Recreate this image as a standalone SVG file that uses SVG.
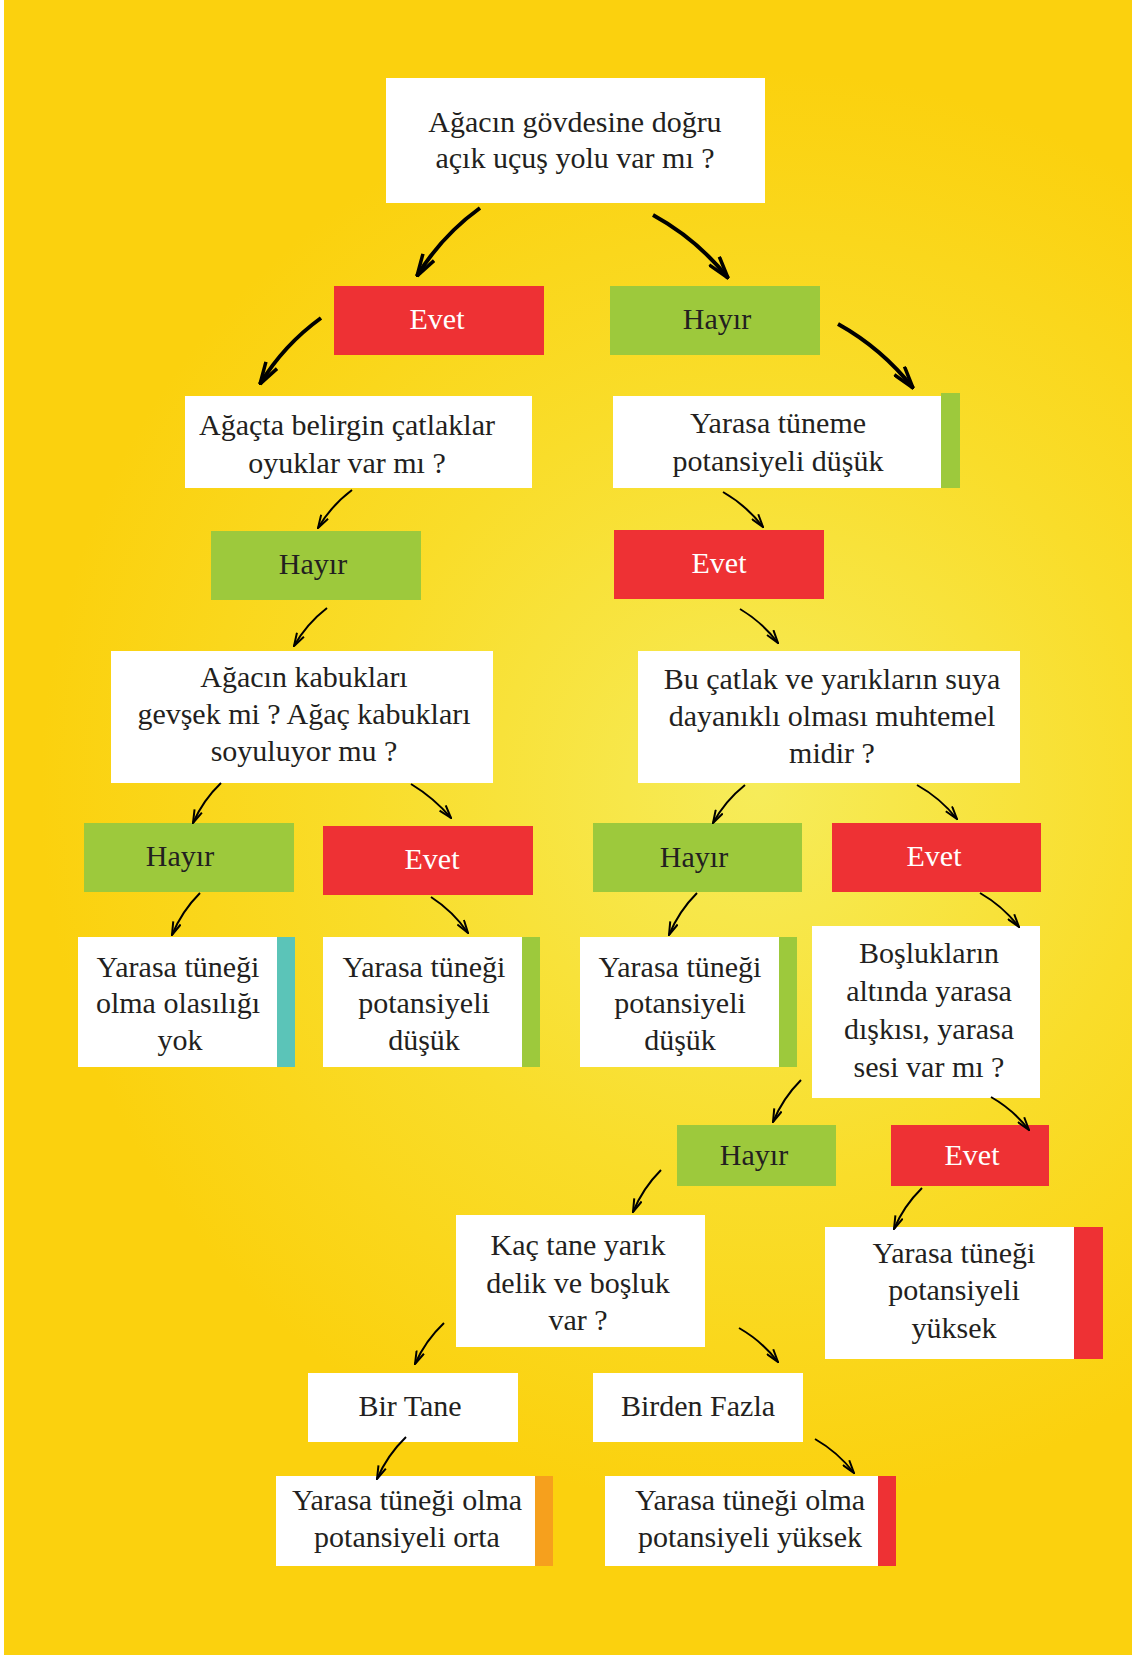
<svg xmlns="http://www.w3.org/2000/svg" width="1132" height="1656" viewBox="0 0 1132 1656">
<defs>
<radialGradient id="bg" gradientUnits="userSpaceOnUse" cx="760" cy="790" r="720">
<stop offset="0" stop-color="#f6ec5a"/>
<stop offset="0.55" stop-color="#f9dd2a"/>
<stop offset="1" stop-color="#fbd10e"/>
</radialGradient>
<marker id="ahBig" markerUnits="userSpaceOnUse" viewBox="0 0 24 16" markerWidth="24" markerHeight="16" refX="23" refY="8" orient="auto">
<path d="M1,1.5 L23,8 L1,14.5" fill="none" stroke="#000" stroke-width="3.5" stroke-linejoin="miter"/>
</marker>
<marker id="ahSmall" markerUnits="userSpaceOnUse" viewBox="0 0 15 10" markerWidth="15" markerHeight="10" refX="14" refY="5" orient="auto">
<path d="M1,1 L14,5 L1,9" fill="none" stroke="#000" stroke-width="2"/>
</marker>
</defs>
<style>
.t{font-family:'Liberation Serif','Times New Roman',serif;font-size:30px;fill:#231f20;text-anchor:middle}
.w{fill:#ffffff}
.tw{fill:#ffffff}
.red{fill:#ee3134}
.grn{fill:#9dc93c}
.teal{fill:#5bc4b8}
.org{fill:#f6a01d}
.big{fill:none;stroke:#000;stroke-width:4;marker-end:url(#ahBig)}
.sm{fill:none;stroke:#000;stroke-width:2;marker-end:url(#ahSmall)}
</style>
<rect x="0" y="0" width="1132" height="1656" fill="#ffffff"/>
<rect x="4" y="0" width="1128" height="1655" fill="url(#bg)"/>

<g id="n-root"><rect class="w" x="386" y="78" width="379" height="125"/><text class="t" x="575" y="132">Ağacın gövdesine doğru</text><text class="t" x="575" y="168">açık uçuş yolu var mı ?</text></g>
<g id="n-evet1"><rect class="red" x="334" y="286" width="210" height="69"/><text class="t tw" x="437" y="329">Evet</text></g>
<g id="n-hayir1"><rect class="grn" x="610" y="286" width="210" height="69"/><text class="t" x="717" y="329">Hayır</text></g>
<g id="n-catlak"><rect class="w" x="185" y="396" width="347" height="92"/><text class="t" x="347" y="435">Ağaçta belirgin çatlaklar</text><text class="t" x="347" y="473">oyuklar var mı ?</text></g>
<g id="n-tuneme"><rect class="w" x="613" y="396" width="328" height="92"/><rect class="grn" x="941" y="393" width="19" height="95"/><text class="t" x="778" y="433">Yarasa tüneme</text><text class="t" x="778" y="471">potansiyeli düşük</text></g>
<g id="n-hayir2"><rect class="grn" x="211" y="531" width="210" height="69"/><text class="t" x="313" y="574">Hayır</text></g>
<g id="n-evet2"><rect class="red" x="614" y="530" width="210" height="69"/><text class="t tw" x="719" y="573">Evet</text></g>
<g id="n-kabuk"><rect class="w" x="111" y="651" width="382" height="132"/><text class="t" x="304" y="687">Ağacın kabukları</text><text class="t" x="304" y="724">gevşek mi ? Ağaç kabukları</text><text class="t" x="304" y="761">soyuluyor mu ?</text></g>
<g id="n-suya"><rect class="w" x="638" y="651" width="382" height="132"/><text class="t" x="832" y="689">Bu çatlak ve yarıkların suya</text><text class="t" x="832" y="726">dayanıklı olması muhtemel</text><text class="t" x="832" y="763">midir ?</text></g>
<g id="n-hayir3"><rect class="grn" x="84" y="823" width="210" height="69"/><text class="t" x="180" y="866">Hayır</text></g>
<g id="n-evet3"><rect class="red" x="323" y="826" width="210" height="69"/><text class="t tw" x="432" y="869">Evet</text></g>
<g id="n-hayir4"><rect class="grn" x="593" y="823" width="209" height="69"/><text class="t" x="694" y="867">Hayır</text></g>
<g id="n-evet4"><rect class="red" x="832" y="823" width="209" height="69"/><text class="t tw" x="934" y="866">Evet</text></g>
<g id="n-yok"><rect class="w" x="78" y="937" width="199" height="130"/><rect class="teal" x="277" y="937" width="18" height="130"/><text class="t" x="178" y="977">Yarasa tüneği</text><text class="t" x="178" y="1013">olma olasılığı</text><text class="t" x="180" y="1050">yok</text></g>
<g id="n-dusuk1"><rect class="w" x="323" y="937" width="199" height="130"/><rect class="grn" x="522" y="937" width="18" height="130"/><text class="t" x="424" y="977">Yarasa tüneği</text><text class="t" x="424" y="1013">potansiyeli</text><text class="t" x="424" y="1050">düşük</text></g>
<g id="n-dusuk2"><rect class="w" x="580" y="937" width="199" height="130"/><rect class="grn" x="779" y="937" width="18" height="130"/><text class="t" x="680" y="977">Yarasa tüneği</text><text class="t" x="680" y="1013">potansiyeli</text><text class="t" x="680" y="1050">düşük</text></g>
<g id="n-bosluk"><rect class="w" x="812" y="926" width="228" height="172"/><text class="t" x="929" y="963">Boşlukların</text><text class="t" x="929" y="1001">altında yarasa</text><text class="t" x="929" y="1039">dışkısı, yarasa</text><text class="t" x="929" y="1077">sesi var mı ?</text></g>
<g id="n-hayir5"><rect class="grn" x="677" y="1125" width="159" height="61"/><text class="t" x="754" y="1165">Hayır</text></g>
<g id="n-evet5"><rect class="red" x="891" y="1125" width="158" height="61"/><text class="t tw" x="972" y="1165">Evet</text></g>
<g id="n-kac"><rect class="w" x="456" y="1215" width="249" height="132"/><text class="t" x="578" y="1255">Kaç tane yarık</text><text class="t" x="578" y="1293">delik ve boşluk</text><text class="t" x="578" y="1330">var ?</text></g>
<g id="n-yuksek1"><rect class="w" x="825" y="1227" width="249" height="132"/><rect class="red" x="1074" y="1227" width="29" height="132"/><text class="t" x="954" y="1263">Yarasa tüneği</text><text class="t" x="954" y="1300">potansiyeli</text><text class="t" x="954" y="1338">yüksek</text></g>
<g id="n-birtane"><rect class="w" x="308" y="1373" width="210" height="69"/><text class="t" x="410" y="1416">Bir Tane</text></g>
<g id="n-birden"><rect class="w" x="593" y="1373" width="210" height="69"/><text class="t" x="698" y="1416">Birden Fazla</text></g>
<g id="n-orta"><rect class="w" x="276" y="1476" width="259" height="90"/><rect class="org" x="535" y="1476" width="18" height="90"/><text class="t" x="407" y="1510">Yarasa tüneği olma</text><text class="t" x="407" y="1547">potansiyeli orta</text></g>
<g id="n-yuksek2"><rect class="w" x="605" y="1476" width="273" height="90"/><rect class="red" x="878" y="1476" width="18" height="90"/><text class="t" x="750" y="1510">Yarasa tüneği olma</text><text class="t" x="750" y="1547">potansiyeli yüksek</text></g>

<g id="connectors">
<path class="big" d="M480,208 Q441.7,235.7 417,276"/>
<path class="big" d="M653,215 Q696.8,239 728,278"/>
<path class="big" d="M321,318 Q283.9,344.9 260,384"/>
<path class="big" d="M838,324 Q881.9,348.5 913,388"/>
<path class="sm" d="M352,490 Q331.2,505.6 318,528"/>
<path class="sm" d="M723,492 Q746.5,505.5 763,527"/>
<path class="sm" d="M327,608 Q306.7,623.7 294,646"/>
<path class="sm" d="M740,609 Q762.4,622.2 778,643"/>
<path class="sm" d="M221,783 Q203,800.2 193,823"/>
<path class="sm" d="M411,784 Q434.4,798.2 451,818"/>
<path class="sm" d="M745,785 Q725.2,800.8 713,823"/>
<path class="sm" d="M917,785 Q940.4,798 957,819"/>
<path class="sm" d="M200,893 Q181.8,911.2 172,935"/>
<path class="sm" d="M431,897 Q453.1,911.3 468,933"/>
<path class="sm" d="M697,893 Q678.8,911.2 669,935"/>
<path class="sm" d="M980,893 Q1002.9,906.1 1019,927"/>
<path class="sm" d="M801,1080 Q782.8,1098.2 773,1122"/>
<path class="sm" d="M991,1097 Q1013.3,1109.7 1029,1130"/>
<path class="sm" d="M661,1170 Q642.8,1188.2 633,1212"/>
<path class="sm" d="M922,1188 Q903.9,1205.7 894,1229"/>
<path class="sm" d="M444,1323 Q425.4,1340.6 415,1364"/>
<path class="sm" d="M739,1328 Q761.9,1341.1 778,1362"/>
<path class="sm" d="M406,1437 Q387.3,1455.1 377,1479"/>
<path class="sm" d="M815,1439 Q837.9,1452.1 854,1473"/>
</g>
</svg>
